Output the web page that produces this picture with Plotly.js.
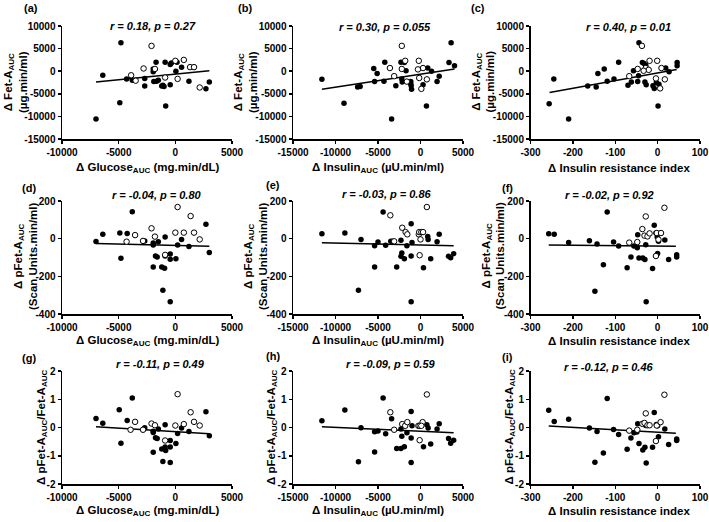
<!DOCTYPE html>
<html><head><meta charset="utf-8">
<script src="https://cdn.plot.ly/plotly-3.0.1.min.js"></script>
<style>html,body{margin:0;padding:0;background:#fff}#chart{width:709px;height:522px}</style>
</head><body><div id="chart"></div>
<script>
// ---------- DATA ----------
// Panel (a): Glucose vs Fet-A
const aFx = [-7000,-6400,-4900,-4800,-4300,-3800,-2700,-2700,-1950,-1950,-1900,-1700,-1650,-1500,-1200,-1100,-1000,-900,-850,-450,-350,-450,50,150,550,1200,2700,3000];
const aFy = [-10600,-900,-7000,6300,-1700,-2000,-1600,-3300,500,-100,-2300,2000,-2200,-2000,-3300,-3100,-3400,2000,-7700,1500,1800,-3000,0,2000,900,-2200,-3900,-2400];
const aOx = [-2100,-2800,-3900,-3500,-1800,-900,0,200,750,1300,1650,2150];
const aOy = [5600,600,-900,-2100,500,-1400,2300,-1700,2500,900,900,-3600];
const aLx = [-7000,3000], aLy = [-2400,100];
// Panel (b): Insulin vs Fet-A
const bFx = [-11600,-9000,-7400,-7100,-5500,-5400,-5100,-4200,-4300,-3400,-2900,-2300,-2200,-2150,-1900,-1700,-1150,-1150,-1100,-1050,300,700,850,1300,1950,2200,3350,3600,4000];
const bFy = [-1800,-7100,-3500,-3400,600,-2300,-500,2000,-2200,-10600,-3200,2000,-1700,-2400,1900,100,-2300,-2800,-3200,-4000,-3000,-7700,700,0,-2300,-1100,1900,6300,1200];
const bOx = [-3600,-3100,-2200,-2200,-1800,-1600,-200,-150,-300,300,100,750];
const bOy = [700,-1100,5600,500,2300,-2300,2300,-1500,400,700,-3900,-1800];
const bLx = [-11600,4000], bLy = [-4000,500];
// Panel (c): Insulin resistance index vs Fet-A
const cFx = [-256,-245,-210,-165,-145,-141,-126,-119,-103,-92,-70,-62,-57,-47,-44,-45,-36,-32,-28,-30,-27,-11,-8,-3,1,3,19,27,46,46];
const cFy = [-7200,-1700,-10600,-3300,-3500,-500,500,-2200,-1700,2000,-3100,-2400,100,-2300,6300,-1000,1900,1700,1300,-2400,-3000,-3200,-3800,-2500,-7700,-2900,700,-100,1900,1200];
const cOx = [-37,-67,-47,-28,-19,-1,-21,-4,6,9,17,-33];
const cOy = [5600,-1100,500,700,2300,2300,300,-1600,-3800,700,-1800,100];
const cLx = [-255,45], cLy = [-4700,400];
// Panel (d): Glucose vs pFet-A
const dFx = [-7000,-6400,-4900,-4800,-4250,-3800,-2700,-1950,-1950,-1950,-1750,-1600,-1500,-1200,-1100,-950,-900,-900,-450,-450,-450,50,200,550,1200,2700,3000];
const dFy = [-15,23,30,-104,28,143,-12,-23,-34,-150,-92,-97,-16,-150,-274,-157,9,-92,-81,-109,-335,-106,-34,-4,-41,76,-74];
const dOx = [-4300,-3550,-2850,-2100,-1800,-900,0,200,750,1350,1650,2150];
const dOy = [-16,19,-12,55,11,-86,32,168,32,120,32,-4];
const dLx = [-7000,3000], dLy = [-25,-40];
// Panel (e): Insulin vs pFet-A
const eFx = [-11600,-8900,-7000,-7300,-5400,-5400,-5000,-4400,-4100,-3500,-3300,-2800,-2300,-2200,-2300,-1900,-1600,-1100,-1100,-1100,-1000,350,850,900,1200,1950,2200,3300,3550,3900];
const eFy = [26,30,-5,-274,-37,-150,-18,141,-35,-14,-14,-150,-9,-76,-94,-106,-37,79,-92,-335,-21,-154,12,-4,-106,-16,23,-94,-101,-80];
const eOx = [-3550,-3100,-2150,-1750,-1550,-200,-150,100,0,300,-100,750];
const eOy = [124,-14,58,35,23,23,35,35,-4,35,-88,168];
const eLx = [-11600,3900], eLy = [-22,-38];
// Panel (f): Insulin resistance index vs pFet-A
const fFx = [-257,-244,-210,-161,-143,-148,-128,-119,-104,-92,-72,-63,-56,-48,-47,-44,-35,-30,-28,-27,-12,-8,-4,0,-1,2,17,26,45,45];
const fFy = [26,23,-21,-11,-28,-279,-138,141,-18,-39,-154,-97,-39,-48,21,-102,-102,-111,-32,-335,-159,71,30,-79,9,-14,-7,-111,-85,-97];
const fOx = [-67,-48,-36,-28,-31,-24,-19,-2,2,-4,8,16];
const fOy = [-21,-18,51,118,16,12,28,30,-5,-92,30,164];
const fLx = [-257,43], fLy = [-33,-40];
// Panel (g): Glucose vs ratio
const gFx = [-7000,-6400,-4950,-4800,-4250,-3800,-2700,-1950,-1950,-1950,-1750,-1600,-1500,-1200,-1100,-950,-900,-900,-850,-450,-450,-450,50,200,550,1200,2700,3000];
const gFy = [0.32,0.15,0.63,-0.56,0.25,1.04,-0.01,-0.13,-0.18,-0.88,-0.36,-0.39,-0.05,-0.76,-1.2,-0.75,0.1,-0.69,-0.81,-0.46,-0.69,-1.24,-0.57,-0.21,-0.02,-0.14,0.56,-0.29];
const gOx = [-3950,-3550,-2850,-2100,-1800,-900,0,200,750,1350,1650,2150];
const gOy = [-0.08,0.2,-0.08,0.14,0.08,-0.46,0.07,1.18,0.12,0.54,0.2,0.07];
const gLx = [-7000,3000], gLy = [0.03,-0.22];
// Panel (h): Insulin vs ratio
const hFx = [-11600,-8900,-7000,-7300,-5400,-5400,-5000,-4400,-4100,-3400,-2800,-2300,-2200,-2300,-1900,-1600,-1100,-1100,-1100,-1000,350,750,900,1200,1950,2200,3300,3550,3900];
const hFy = [0.24,0.62,-0.01,-1.21,-0.15,-0.87,-0.12,1.04,-0.22,0.31,-0.74,-0.05,-0.31,-0.74,-0.68,-0.19,0.57,-0.37,-1.24,0.06,-0.68,0.1,-0.02,-0.58,-0.05,0.13,-0.39,-0.56,-0.45];
const hOx = [-3550,-3100,-2150,-1800,-1550,-250,-100,250,100,-100,750];
const hOy = [0.54,-0.08,0.12,0.06,0.19,0.06,0.06,0.19,0.06,-0.45,1.17];
const hLx = [-11600,3900], hLy = [0.03,-0.19];
// Panel (i): Insulin resistance index vs ratio
const iFx = [-257,-244,-210,-161,-143,-148,-128,-119,-104,-92,-72,-63,-56,-49,-47,-44,-35,-30,-28,-27,-12,-8,-3,2,0,17,26,45,45];
const iFy = [0.61,0.21,0.29,-0.02,-0.14,-1.23,-0.9,1.03,-0.07,-0.25,-0.77,-0.37,-0.19,-0.16,0.13,-0.57,-0.8,-0.7,0.07,-1.26,-0.7,0.53,0.11,-0.33,0.06,-0.05,-0.6,-0.41,-0.46];
const iOx = [-67,-48,-36,-28,-31,-24,-19,-2,7,-4,16];
const iOy = [-0.11,-0.08,0.13,0.5,0.16,0.08,0.08,0.07,0.19,-0.48,1.16];
const iLx = [-257,43], iLy = [0.05,-0.2];

// Axis ticks and labels
const gluTicks = [-10000,-5000,0,5000], gluText = ['-10000','-5000','0','5000'];
const insTicks = [-15000,-10000,-5000,0,5000], insText = ['-15000','-10000','-5000','0','5000'];
const irTicks = [-300,-200,-100,0,100], irText = ['-300','-200','-100','0','100'];
const fetTicks = [-15000,-10000,-5000,0,5000,10000], fetText = ['-15000','-10000','-5000','0','5000','10000'];
const pfetTicks = [-400,-200,0,200], pfetText = ['-400','-200','0','200'];
const ratioTicks = [-2,-1,0,1,2], ratioText = ['-2','-1','0','1','2'];

const panelLetters = ['(a)','(b)','(c)','(d)','(e)','(f)','(g)','(h)','(i)'];
const rTexts = ['r = 0.18, p = 0.27','r = 0.30, p = 0.055','r = 0.40, p = 0.01',
                'r = -0.04, p = 0.80','r = -0.03, p = 0.86','r = -0.02, p = 0.92',
                'r = -0.11, p = 0.49','r = -0.09, p = 0.59','r = -0.12, p = 0.46'];
const xTitles = ['Δ Glucose<sub>AUC</sub> (mg.min/dL)','Δ Insulin<sub>AUC</sub> (µU.min/ml)','Δ Insulin resistance index'];
const yTitles = ['Δ Fet-A<sub>AUC</sub><br>(µg.min/ml)','Δ pFet-A<sub>AUC</sub><br>(Scan Units.min/ml)','Δ pFet-A<sub>AUC</sub>/Fet-A<sub>AUC</sub>'];

// ---------- BUILD ----------
const W = 709, H = 522;
const FONT = '"Liberation Sans", Arial, sans-serif';
const colPx = [[62,232],[293,463],[530.5,700]];
const rowPx = [[26,139],[201,314],[371,484]];
const xRanges = [[-10000,5000],[-15000,5000],[-300,100]];
const yRanges = [[-15000,10000],[-400,200],[-2,2]];
const xT = [[gluTicks,gluText],[insTicks,insText],[irTicks,irText]];
const yT = [[fetTicks,fetText],[pfetTicks,pfetText],[ratioTicks,ratioText]];

const sets = [
  [aFx,aFy,aOx,aOy,aLx,aLy],[bFx,bFy,bOx,bOy,bLx,bLy],[cFx,cFy,cOx,cOy,cLx,cLy],
  [dFx,dFy,dOx,dOy,dLx,dLy],[eFx,eFy,eOx,eOy,eLx,eLy],[fFx,fFy,fOx,fOy,fLx,fLy],
  [gFx,gFy,gOx,gOy,gLx,gLy],[hFx,hFy,hOx,hOy,hLx,hLy],[iFx,iFy,iOx,iOy,iLx,iLy]
];

const px = v => v / W, py = v => 1 - v / H;
const traces = [], annotations = [];
const layout = {
  width: W, height: H, margin: {l:0,r:0,t:0,b:0}, showlegend: false,
  paper_bgcolor: '#fff', plot_bgcolor: '#fff', font: {family: FONT, color: '#000'}
};

// label positions (pixels)
const letterPos = [[31,8],[245,8],[478,8],[29,188],[273,185],[507,188],[29,358],[273,356],[507,357]];
const rPos = [[153,26],[385,27],[628,27],[157,195],[387,194],[609,195],[160,364],[391,364],[609,367]];
const yTitleOff = [47,36,20];
const xTitleY = [168,341,511];
const yTitleCY = [82,256,427];

for (let r = 0; r < 3; r++) {
  for (let c = 0; c < 3; c++) {
    const k = r*3 + c, n = k + 1;
    const xa = n === 1 ? 'x' : 'x' + n, ya = n === 1 ? 'y' : 'y' + n;
    const common = {
      showline: true, linecolor: '#000', linewidth: 1.5, mirror: false,
      ticks: 'outside', ticklen: 3, tickwidth: 1.5, tickcolor: '#000',
      showgrid: false, zeroline: false, fixedrange: true,
      tickfont: {family: FONT, size: 10, weight: 'bold', color: '#000'}, tickmode: 'array'
    };
    layout['xaxis' + (n === 1 ? '' : n)] = Object.assign({}, common, {
      domain: [px(colPx[c][0]), px(colPx[c][1])], range: xRanges[c], anchor: ya,
      tickvals: xT[c][0], ticktext: xT[c][1]
    });
    layout['yaxis' + (n === 1 ? '' : n)] = Object.assign({}, common, {
      domain: [py(rowPx[r][1]), py(rowPx[r][0])], range: yRanges[r], anchor: xa,
      tickvals: yT[r][0], ticktext: yT[r][1]
    });
    const s = sets[k];
    traces.push({x: s[4], y: s[5], xaxis: xa, yaxis: ya, mode: 'lines', type: 'scatter',
      line: {color: '#000', width: 1.5}, hoverinfo: 'skip'});
    traces.push({x: s[0], y: s[1], xaxis: xa, yaxis: ya, mode: 'markers', type: 'scatter',
      marker: {color: '#000', size: 5.5, line: {width: 0}}});
    traces.push({x: s[2], y: s[3], xaxis: xa, yaxis: ya, mode: 'markers', type: 'scatter',
      marker: {color: '#fff', size: 5.5, line: {color: '#000', width: 1}}});

    annotations.push({xref:'paper', yref:'paper', x: px(letterPos[k][0]), y: py(letterPos[k][1]),
      xanchor:'center', yanchor:'middle', showarrow:false, text: panelLetters[k],
      font:{family: FONT, size: 11, weight:'bold', color:'#000'}});
    annotations.push({xref:'paper', yref:'paper', x: px(rPos[k][0]), y: py(rPos[k][1]),
      xanchor:'center', yanchor:'middle', showarrow:false, text: '<i>' + rTexts[k] + '</i>',
      font:{family: FONT, size: 11, weight:'bold', color:'#000'}});
    const xc = (colPx[c][0] + colPx[c][1]) / 2 + (c === 2 ? 4 : 0);
    annotations.push({xref:'paper', yref:'paper', x: px(xc), y: py(xTitleY[r]),
      xanchor:'center', yanchor:'middle', showarrow:false, text: xTitles[c],
      font:{family: FONT, size: 11.5, weight:'bold', color:'#000'}});
    annotations.push({xref:'paper', yref:'paper', x: px(colPx[c][0] - yTitleOff[r] + (c===0?0:-1)), y: py(yTitleCY[r]),
      xanchor:'center', yanchor:'middle', showarrow:false, text: yTitles[r], textangle: -90,
      font:{family: FONT, size: 11.5, weight:'bold', color:'#000'}});
  }
}
layout.annotations = annotations;
Plotly.newPlot('chart', traces, layout, {displayModeBar: false, staticPlot: true});
</script></body></html>
